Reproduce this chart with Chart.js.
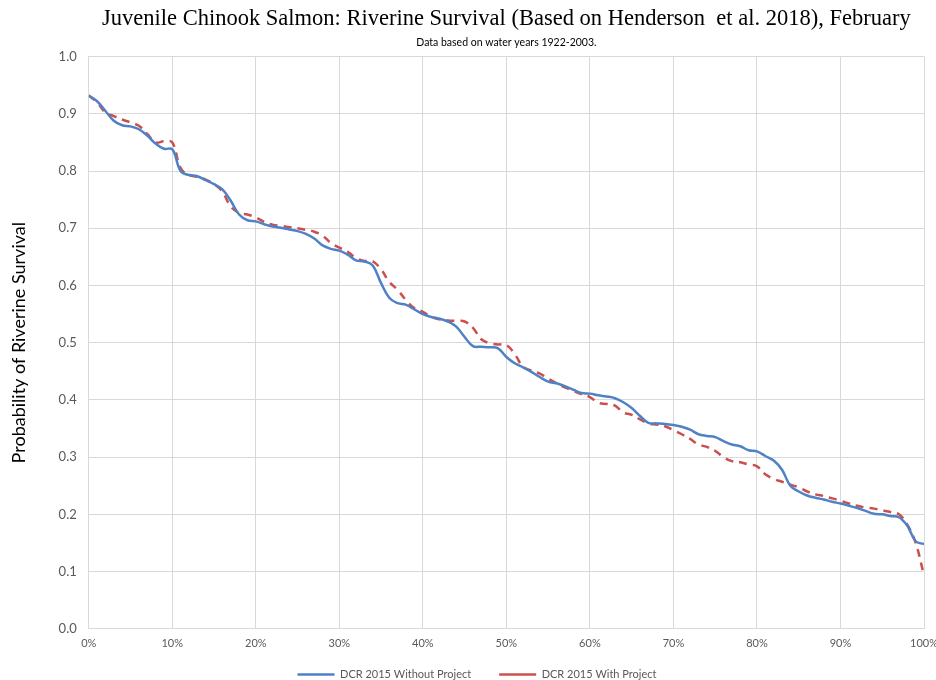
<!DOCTYPE html>
<html>
<head>
<meta charset="utf-8">
<script src="https://cdn.jsdelivr.net/npm/chart.js@4.4.1/dist/chart.umd.min.js"></script>
<style>
  html, body { margin: 0; padding: 0; background: #ffffff; overflow: hidden; }
  #wrap { position: relative; width: 946px; height: 680px; }
</style>
</head>
<body>
<div id="wrap"><canvas id="chart"></canvas></div>
<script>
// Exceedance probability (percent of years)
const exceedance = [
  0, 1, 2, 3, 4, 5, 6, 7, 8, 9,
  10, 11, 12, 13, 14, 15, 16, 17, 18, 19,
  20, 21, 22, 23, 24, 25, 26, 27, 28, 29,
  30, 31, 32, 33, 34, 35, 36, 37, 38, 39,
  40, 41, 42, 43, 44, 45, 46, 47, 48, 49,
  50, 51, 52, 53, 54, 55, 56, 57, 58, 59,
  60, 61, 62, 63, 64, 65, 66, 67, 68, 69,
  70, 71, 72, 73, 74, 75, 76, 77, 78, 79,
  80, 81, 82, 83, 84, 85, 86, 87, 88, 89,
  90, 91, 92, 93, 94, 95, 96, 97, 98, 99,
  100
];

// Riverine survival, DCR 2015 without the project
const survivalWithout = [
  0.932, 0.922, 0.905, 0.888, 0.880, 0.878, 0.873, 0.862, 0.848, 0.839,
  0.838, 0.800, 0.793, 0.791, 0.784, 0.777, 0.768, 0.748, 0.724, 0.714,
  0.712, 0.707, 0.703, 0.701, 0.698, 0.695, 0.690, 0.682, 0.670, 0.664,
  0.661, 0.654, 0.644, 0.642, 0.635, 0.604, 0.578, 0.569, 0.566, 0.558,
  0.550, 0.545, 0.542, 0.537, 0.528, 0.510, 0.494, 0.493, 0.492, 0.490,
  0.475, 0.464, 0.457, 0.449, 0.440, 0.432, 0.429, 0.424, 0.418, 0.412,
  0.411, 0.408, 0.406, 0.403, 0.396, 0.386, 0.372, 0.360, 0.359, 0.358,
  0.356, 0.353, 0.348, 0.340, 0.337, 0.335, 0.328, 0.322, 0.319, 0.312,
  0.310, 0.302, 0.294, 0.278, 0.250, 0.240, 0.233, 0.229, 0.226, 0.222,
  0.219, 0.215, 0.211, 0.206, 0.201, 0.200, 0.197, 0.195, 0.180, 0.153,
  0.148
];

// Riverine survival, DCR 2015 with the project
const survivalWith = [
  0.932, 0.920, 0.902, 0.896, 0.890, 0.885, 0.879, 0.865, 0.850, 0.852,
  0.850, 0.805, 0.793, 0.790, 0.785, 0.777, 0.764, 0.738, 0.727, 0.724,
  0.719, 0.711, 0.706, 0.704, 0.702, 0.700, 0.697, 0.694, 0.687, 0.674,
  0.666, 0.659, 0.648, 0.643, 0.642, 0.628, 0.606, 0.592, 0.574, 0.560,
  0.554, 0.545, 0.541, 0.539, 0.538, 0.537, 0.526, 0.506, 0.499, 0.497,
  0.496, 0.480, 0.458, 0.451, 0.446, 0.437, 0.429, 0.422, 0.416, 0.410,
  0.405, 0.395, 0.393, 0.390, 0.378, 0.374, 0.366, 0.359, 0.357, 0.354,
  0.347, 0.340, 0.332, 0.322, 0.318, 0.311, 0.300, 0.293, 0.291, 0.287,
  0.284, 0.270, 0.262, 0.257, 0.252, 0.247, 0.240, 0.235, 0.232, 0.228,
  0.224, 0.219, 0.215, 0.212, 0.210, 0.207, 0.204, 0.200, 0.182, 0.150,
  0.093
];

const seriesNames = ['DCR 2015 Without Project', 'DCR 2015 With Project'];

const toPoints = (xs, ys) => xs.map((x, i) => ({ x: x, y: ys[i] }));

const sansFont = 'Lato, "Open Sans", sans-serif';

// The legend uses wide item spacing, which also pads it vertically;
// lift it back up so it sits just under the axis labels.
const legendLift = {
  id: 'legendLift',
  afterLayout(chart) {
    const lg = chart.legend;
    if (lg) {
      lg.top -= 17;
      lg.bottom -= 17;
    }
  }
};

const ctx = document.getElementById('chart');
new Chart(ctx, {
  type: 'line',
  data: {
    datasets: [
      {
        label: seriesNames[0],
        data: toPoints(exceedance, survivalWithout),
        borderColor: '#4f81c7',
        backgroundColor: '#4f81c7',
        borderWidth: 2.5,
        pointRadius: 0,
        tension: 0.4,
        fill: false
      },
      {
        label: seriesNames[1],
        data: toPoints(exceedance, survivalWith),
        borderColor: '#c9504d',
        backgroundColor: '#c9504d',
        borderWidth: 2.5,
        borderDash: [8, 6],
        pointRadius: 0,
        tension: 0.4,
        fill: false
      }
    ]
  },
  plugins: [legendLift],
  options: {
    responsive: true,
    maintainAspectRatio: false,
    animation: false,
    layout: { padding: { top: 4, right: 0, bottom: -27, left: 8 } },
    plugins: {
      title: {
        display: true,
        fullSize: false,
        text: 'Juvenile Chinook Salmon: Riverine Survival (Based on Henderson  et al. 2018), February',
        color: '#000000',
        font: { family: '"Liberation Serif", "Times New Roman", serif', size: 22.5, weight: 'normal' },
        padding: { top: 2, bottom: 2 }
      },
      subtitle: {
        display: true,
        fullSize: false,
        text: 'Data based on water years 1922-2003.',
        color: '#000000',
        font: { family: sansFont, size: 10.5 },
        padding: { top: 1, bottom: 8 }
      },
      legend: {
        position: 'bottom',
        labels: {
          usePointStyle: true,
          pointStyle: 'line',
          pointStyleWidth: 37,
          color: '#595959',
          font: { family: sansFont, size: 11 },
          padding: 28
        }
      },
      tooltip: { enabled: false }
    },
    scales: {
      x: {
        type: 'linear',
        min: 0,
        max: 100,
        grid: { color: '#d9d9d9', drawTicks: false },
        border: { color: '#d9d9d9' },
        ticks: {
          stepSize: 10,
          padding: 8,
          color: '#595959',
          font: { family: sansFont, size: 11 },
          maxRotation: 0,
          callback: (v) => v + '%'
        }
      },
      y: {
        min: 0,
        max: 1,
        grid: { color: '#d9d9d9', drawTicks: false },
        border: { color: '#d9d9d9' },
        ticks: {
          stepSize: 0.1,
          padding: 12,
          color: '#595959',
          font: { family: sansFont, size: 13 },
          callback: (v) => Number(v).toFixed(1)
        },
        title: {
          display: true,
          text: 'Probability of Riverine Survival',
          color: '#000000',
          font: { family: sansFont, size: 18 },
          padding: { top: 0, bottom: 17 }
        }
      }
    }
  }
});
</script>
</body>
</html>
